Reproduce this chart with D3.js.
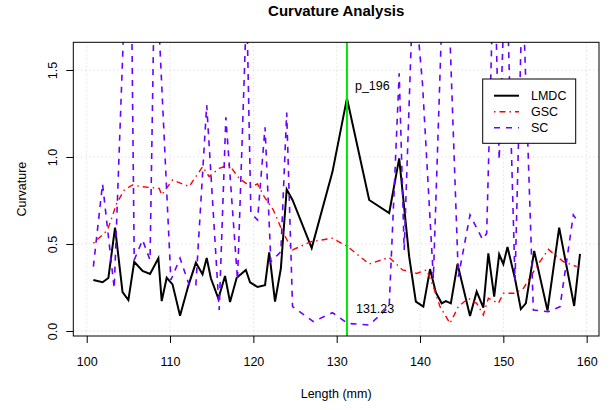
<!DOCTYPE html>
<html lang="en">
<head>
    <meta charset="UTF-8">
    <title>Curvature Analysis</title>
    <script src="https://d3js.org/d3.v7.min.js"></script>
    <style>
        body { margin: 0; background: #ffffff; }
        svg { font-family: "Liberation Sans", Arial, sans-serif; }
        .grid line { stroke: #d3d3d3; stroke-width: 1; stroke-dasharray: 1,3; }
    </style>
</head>
<body>
<svg id="chart" width="615" height="410"></svg>
<script>
    // Length positions (mm) and curvature per method
    const lmdcLen = [100.8, 101.9, 102.6, 103.4, 104.3, 105.0, 105.7, 106.7, 107.6, 108.6, 109.0, 109.6, 110.3, 111.2, 112.2, 113.1,
        113.9, 114.4, 114.9, 115.8, 116.6, 117.2, 118.0, 119.1, 119.6, 120.5, 121.4, 121.9, 122.6, 123.3, 124.0, 124.7, 127.0, 129.5,
        131.23, 133.9, 136.3, 137.5, 138.7, 139.5, 140.4, 141.2, 141.9, 142.6, 143.1, 143.7, 144.5, 146.0, 146.8, 147.6, 148.2, 148.9,
        149.5, 150.0, 150.5, 151.4, 152.1, 152.7, 153.7, 155.3, 156.7, 158.5, 159.2];
    const lmdcCurv = [0.293, 0.280, 0.305, 0.594, 0.224, 0.178, 0.398, 0.345, 0.328, 0.418, 0.172, 0.306, 0.268, 0.088, 0.261, 0.393,
        0.326, 0.420, 0.303, 0.186, 0.316, 0.167, 0.306, 0.351, 0.280, 0.253, 0.263, 0.452, 0.169, 0.360, 0.814, 0.753, 0.477, 0.916,
        1.337, 0.753, 0.678, 0.992, 0.427, 0.169, 0.140, 0.356, 0.222, 0.159, 0.172, 0.159, 0.385, 0.086, 0.226, 0.134, 0.446, 0.197,
        0.441, 0.385, 0.483, 0.300, 0.126, 0.159, 0.460, 0.117, 0.594, 0.144, 0.443];

    const gscLen = [100.8, 102.5, 103.6, 104.5, 105.5, 106.5, 107.7, 108.7, 109.0, 110.3, 112.3, 113.9, 114.7, 115.9, 117.1, 118.3,
        119.7, 120.5, 121.3, 122.4, 123.6, 124.7, 126.9, 129.5, 131.3, 133.9, 136.3, 137.9, 139.6, 140.8, 141.6, 142.4, 143.6, 144.6,
        145.8, 146.8, 147.6, 148.2, 149.4, 150.0, 151.4, 152.4, 154.0, 155.4, 157.2, 158.8];
    const gscCurv = [0.504, 0.580, 0.734, 0.810, 0.839, 0.830, 0.824, 0.820, 0.782, 0.868, 0.830, 0.944, 0.887, 0.935, 0.954, 0.877,
        0.829, 0.845, 0.772, 0.695, 0.561, 0.466, 0.513, 0.533, 0.485, 0.385, 0.423, 0.351, 0.331, 0.351, 0.255, 0.140, 0.044, 0.140,
        0.188, 0.159, 0.092, 0.188, 0.159, 0.217, 0.217, 0.245, 0.370, 0.469, 0.398, 0.370];

    const scLen = [100.8, 101.9, 103.3, 105.2, 105.7, 106.7, 107.6, 108.2, 110.1, 111.2, 112.3, 113.1, 114.4, 115.9, 116.7, 118.1,
        119.2, 119.7, 120.5, 121.4, 122.1, 123.3, 124.0, 124.7, 127.2, 129.5, 131.3, 133.9, 136.3, 137.5, 138.1, 139.2, 140.3, 141.6,
        143.05, 144.6, 146.0, 147.5, 148.0, 148.9, 149.5, 150.3, 151.4, 152.3, 153.6, 155.4, 156.8, 158.4, 159.1];
    const scCurv = [0.370, 0.845, 0.245, 2.75, 0.408, 0.523, 0.408, 2.23, 0.293, 0.418, 0.264, 0.264, 1.299, 0.121, 1.228, 0.293,
        1.89, 0.678, 0.638, 1.171, 0.398, 0.456, 1.255, 0.140, 0.054, 0.105, 0.044, 0.034, 0.140, 1.481, 0.466, 2.02, 1.42, 0.303,
        2.43, 0.312, 0.667, 0.527, 0.561, 2.2, 0.983, 2.2, 0.290, 2.0, 0.121, 0.111, 0.140, 0.667, 0.619];

    const xTicks = [100, 110, 120, 130, 140, 150, 160];
    const yTicks = [0, 0.5, 1.0, 1.5];
    const peakLen = 131.23;
    const peakName = "p_196";

    const series = [
        {name: "LMDC", len: lmdcLen, curv: lmdcCurv, color: "#000000", width: 2, dash: null},
        {name: "GSC", len: gscLen, curv: gscCurv, color: "#ff0000", width: 1.4, dash: "1.5,4,6,4"},
        {name: "SC", len: scLen, curv: scCurv, color: "#6a00ff", width: 1.6, dash: "6,6"}
    ];

    const svg = d3.select("#chart");
    // plot region edges in px
    const pLeft = 73.3, pRight = 599, pTop = 42.3, pBottom = 336;

    const x = d3.scaleLinear().domain([98.39, 161.48]).range([pLeft, pRight]);
    const y = d3.scaleLinear().domain([-0.0287, 1.659]).range([pBottom, pTop]);

    svg.append("defs").append("clipPath").attr("id", "plotClip")
        .append("rect")
        .attr("x", pLeft).attr("y", pTop)
        .attr("width", pRight - pLeft).attr("height", pBottom - pTop);

    // dotted grid at the tick positions
    const grid = svg.append("g").attr("class", "grid");
    grid.selectAll(".gx").data(xTicks).enter().append("line")
        .attr("class", "gx")
        .attr("x1", d => x(d)).attr("x2", d => x(d))
        .attr("y1", pTop).attr("y2", pBottom);
    grid.selectAll(".gy").data(yTicks).enter().append("line")
        .attr("class", "gy")
        .attr("x1", pLeft).attr("x2", pRight)
        .attr("y1", d => y(d)).attr("y2", d => y(d));

    // axes
    const xAxis = svg.append("g")
        .attr("transform", `translate(0,${pBottom})`)
        .call(d3.axisBottom(x).tickValues(xTicks).tickSize(7).tickPadding(14).tickFormat(d3.format("d")));
    xAxis.select(".domain").remove();
    xAxis.selectAll("text").style("font-size", "12.5px").attr("fill", "#000");

    const yAxis = svg.append("g")
        .attr("transform", `translate(${pLeft},0)`)
        .call(d3.axisLeft(y).tickValues(yTicks).tickSize(7).tickFormat(d3.format(".1f")));
    yAxis.select(".domain").remove();
    yAxis.selectAll("text")
        .attr("x", 0).attr("dy", 0)
        .attr("transform", "translate(-16.8,0) rotate(-90)")
        .attr("text-anchor", "middle")
        .attr("fill", "#000")
        .style("font-size", "12.5px");

    // curves
    const line = d3.line().x(d => x(d[0])).y(d => y(d[1]));
    const plot = svg.append("g").attr("clip-path", "url(#plotClip)");
    series.forEach(s => {
        plot.append("path")
            .datum(s.len.map((v, i) => [v, s.curv[i]]))
            .attr("d", line)
            .attr("fill", "none")
            .attr("stroke", s.color)
            .attr("stroke-width", s.width)
            .attr("stroke-dasharray", s.dash);
    });

    // marker for the detected peak
    plot.append("line")
        .attr("x1", x(peakLen)).attr("x2", x(peakLen))
        .attr("y1", pTop).attr("y2", pBottom)
        .attr("stroke", "#00e600")
        .attr("stroke-width", 2);

    svg.append("text")
        .attr("x", x(peakLen) + 8).attr("y", 89.5)
        .style("font-size", "12.5px")
        .text(peakName);
    svg.append("text")
        .attr("x", x(peakLen) + 9).attr("y", 312.5)
        .style("font-size", "12.5px")
        .text(peakLen.toFixed(2));

    // box
    svg.append("rect")
        .attr("x", pLeft).attr("y", pTop)
        .attr("width", pRight - pLeft).attr("height", pBottom - pTop)
        .attr("fill", "none").attr("stroke", "#000").attr("stroke-width", 1);

    // legend
    const legend = svg.append("g");
    legend.append("rect")
        .attr("x", 482.7).attr("y", 79)
        .attr("width", 93).attr("height", 64.3)
        .attr("fill", "#fff").attr("stroke", "#000").attr("stroke-width", 1);
    series.forEach((s, i) => {
        const ly = 95.7 + i * 16;
        legend.append("line")
            .attr("x1", 494).attr("x2", 519)
            .attr("y1", ly).attr("y2", ly)
            .attr("stroke", s.color)
            .attr("stroke-width", s.width)
            .attr("stroke-dasharray", s.dash);
        legend.append("text")
            .attr("x", 531).attr("y", ly).attr("dy", "0.36em")
            .style("font-size", "12.5px")
            .text(s.name);
    });

    // titles
    svg.append("text")
        .attr("x", (pLeft + pRight) / 2).attr("y", 15.5)
        .attr("text-anchor", "middle")
        .style("font-size", "15px").style("font-weight", "bold")
        .text("Curvature Analysis");
    svg.append("text")
        .attr("x", (pLeft + pRight) / 2).attr("y", 397.5)
        .attr("text-anchor", "middle")
        .style("font-size", "12.5px")
        .text("Length (mm)");
    svg.append("text")
        .attr("transform", `translate(25.5,${(pTop + pBottom) / 2}) rotate(-90)`)
        .attr("text-anchor", "middle")
        .style("font-size", "12.5px")
        .text("Curvature");
</script>
</body>
</html>
